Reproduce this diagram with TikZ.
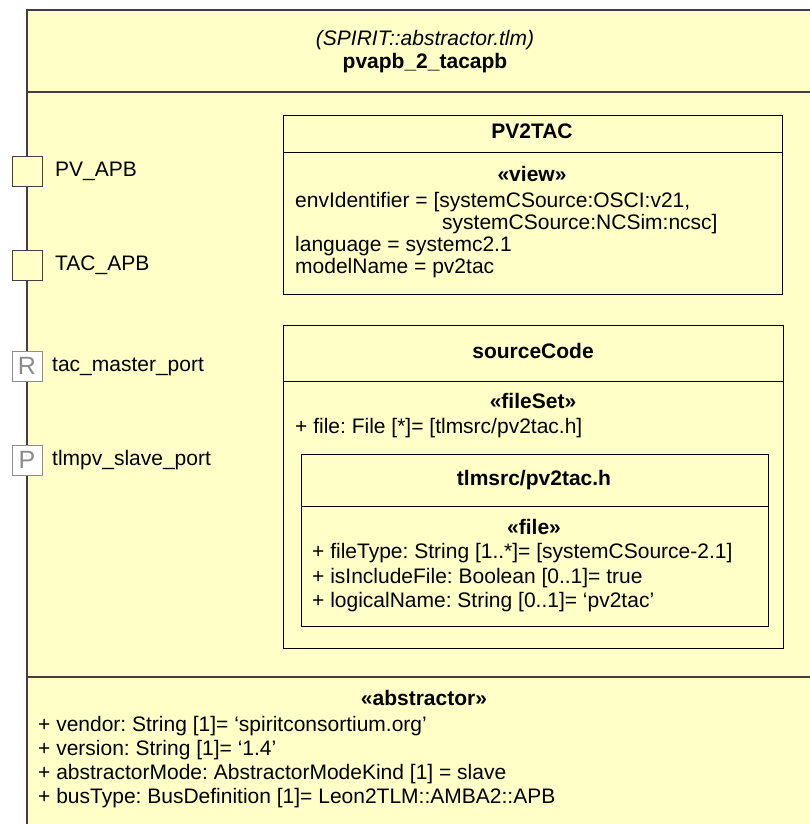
\documentclass[tikz,border=0pt]{standalone}
\usepackage{fontspec}
\setmainfont{Liberation Sans}
\frenchspacing
\definecolor{umlfill}{rgb}{1,1,0.78}
\definecolor{umlline}{RGB}{64,64,64}
\definecolor{portgray}{RGB}{140,140,140}
\begin{document}
\frenchspacing
\begin{tikzpicture}[x=1pt,y=-1pt,
  txt/.style={inner sep=0pt, font=\fontsize{21}{23}\selectfont, text height=15pt, text depth=4pt},
  lt/.style={txt, anchor=west},
  ct/.style={txt, anchor=center},
  bt/.style={ct, font=\fontsize{21}{23}\selectfont\bfseries},
  it/.style={ct, font=\fontsize{21}{23}\selectfont\itshape},
  umlbox/.style={draw=black, line width=1pt, anchor=north west, inner sep=0pt},
  sepline/.style={draw=black, line width=1pt},
  portbox/.style={draw=umlline, fill=umlfill, line width=1pt, minimum size=30pt, inner sep=0pt},
  portrp/.style={draw=portgray, fill=white, line width=1pt, minimum size=30pt, inner sep=0pt, text=portgray, font=\fontsize{25}{25}\selectfont}
]
\useasboundingbox (0,0) rectangle (810,824);
\fill[white] (0,0) rectangle (810,824);
\fill[umlfill] (27,10) rectangle (810,824);
\draw[draw=umlline, line width=1.5pt] (27,826) -- (27,10) -- (812,10);
\draw[draw=umlline, line width=1.5pt] (27,92) -- (812,92);
\draw[draw=umlline, line width=1.5pt] (27,677) -- (812,677);
\node[it] (kind) at (425,40) {(SPIRIT::abstractor.tlm)};
\node[bt] (name) at (425,63) {pvapb\_2\_tacapb};

% ports
\node[portbox] (p1) at (27,171) {};
\node[lt] (p1l) at (55,171) {PV\_APB};
\node[portbox] (p2) at (27,265) {};
\node[lt] (p2l) at (55,265) {TAC\_APB};
\node[portrp] (p3) at (27,366) {R};
\node[lt] (p3l) at (52,366) {tac\_master\_port};
\node[portrp] (p4) at (27,460) {P};
\node[lt] (p4l) at (52,460) {tlmpv\_slave\_port};

% PV2TAC view
\node[umlbox, minimum width=499pt, minimum height=179pt] (view) at (283,115) {};
\draw[sepline] (283,152) -- (782,152);
\node[bt] (viewt) at (532,133) {PV2TAC};
\node[bt] (views) at (532,176) {«view»};
\node[lt] (v1) at (295,202) {envIdentifier = [systemCSource:OSCI:v21,};
\node[lt] (v2) at (442,224) {systemCSource:NCSim:ncsc]};
\node[lt] (v3) at (295,246) {language = systemc2.1};
\node[lt] (v4) at (295,268) {modelName = pv2tac};

% sourceCode fileSet
\node[umlbox, minimum width=500pt, minimum height=323pt] (fs) at (283,325) {};
\draw[sepline] (283,381) -- (783,381);
\node[bt] (fst) at (533,353) {sourceCode};
\node[bt] (fss) at (533,403) {«fileSet»};
\node[lt] (fs1) at (295,428) {+ file: File [*]= [tlmsrc/pv2tac.h]};

% file
\node[umlbox, minimum width=467pt, minimum height=172pt] (file) at (301,454) {};
\draw[sepline] (301,506) -- (768,506);
\node[bt] (filet) at (534,480) {tlmsrc/pv2tac.h};
\node[bt] (files) at (534,529) {«file»};
\node[lt] (f1) at (312,553) {+ fileType: String [1..*]= [systemCSource-2.1]};
\node[lt] (f2) at (312,578) {+ isIncludeFile: Boolean [0..1]= true};
\node[lt] (f3) at (312,602) {+ logicalName: String [0..1]= ‘pv2tac’};

% abstractor attributes
\node[bt] (abs) at (424,700) {«abstractor»};
\node[lt] (a1) at (38,726) {+ vendor: String [1]= ‘spiritconsortium.org’};
\node[lt] (a2) at (38,750) {+ version: String [1]= ‘1.4’};
\node[lt] (a3) at (38,774) {+ abstractorMode: AbstractorModeKind [1] = slave};
\node[lt] (a4) at (38,798) {+ busType: BusDefinition [1]= Leon2TLM::AMBA2::APB};
\end{tikzpicture}
\end{document}
